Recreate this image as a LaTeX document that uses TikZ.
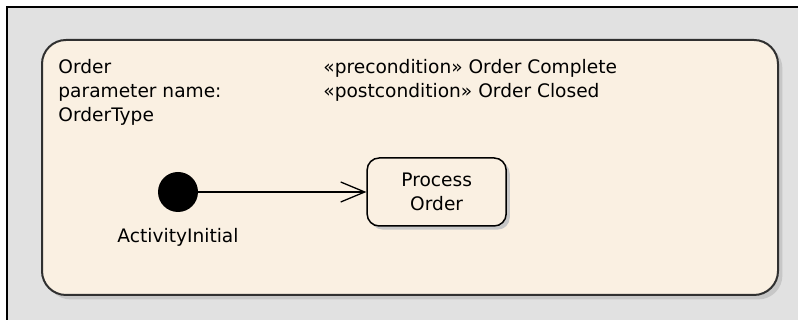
\documentclass[tikz,border=0pt]{standalone}
\usepackage{fontspec}
\setmainfont{DejaVu Sans}
\usepackage{tikz}
\usetikzlibrary{arrows.meta, positioning, shadows}

\definecolor{panelgray}{HTML}{E1E1E1}
\definecolor{creamfill}{HTML}{FAF0E2}
\definecolor{framedraw}{HTML}{303030}

\begin{document}
\begin{tikzpicture}[
    x=0.5pt, y=0.5pt,
    every node/.style={font=\fontsize{9.3}{12}\selectfont},
    framebox/.style={draw=framedraw, line width=1pt, rectangle, rounded corners=12pt, fill=creamfill, minimum width=368pt, minimum height=127.5pt, drop shadow={fill=black!22, opacity=1, shadow xshift=2.2pt, shadow yshift=-2.2pt}},
    actionbox/.style={draw=black, line width=0.75pt, rectangle, rounded corners=6pt, fill=creamfill, minimum width=69.5pt, minimum height=34pt, align=center, inner sep=0pt, drop shadow={fill=black!22, opacity=1, shadow xshift=1.8pt, shadow yshift=-1.8pt}},
    initial/.style={circle, fill=black, minimum size=20pt, inner sep=0pt},
    notetext/.style={anchor=north west, align=left, inner sep=0pt},
    arrow/.style={-{Straight Barb[length=12pt, width=10pt, line width=0.65pt]}, line width=0.65pt, draw=black}
  ]
    \useasboundingbox (0,0) rectangle (798,320);
    \fill[white] (0,0) rectangle (798,320);

    % Panel
    \fill[panelgray] (7,0) rectangle (798,313);
    \draw[black, line width=0.8pt] (7,0) -- (7,313) -- (798,313);

    % Activity frame
    \node[framebox] (activity) at (410,152.5) {};
    \node[notetext] (params) at (58,261) {Order\\parameter name:\\OrderType};
    \node[notetext] (conditions) at (323,261) {«precondition» Order Complete\\«postcondition» Order Closed};

    % Nodes
    \node[initial] (init) at (178,128) {};
    \node[inner sep=0pt, below=8pt of init] (initlabel) {ActivityInitial};
    \node[actionbox, right=84pt of init] (process) {Process\\Order};

    % Connections
    \draw[arrow] (init) -- (process);

  \end{tikzpicture}
\end{document}
